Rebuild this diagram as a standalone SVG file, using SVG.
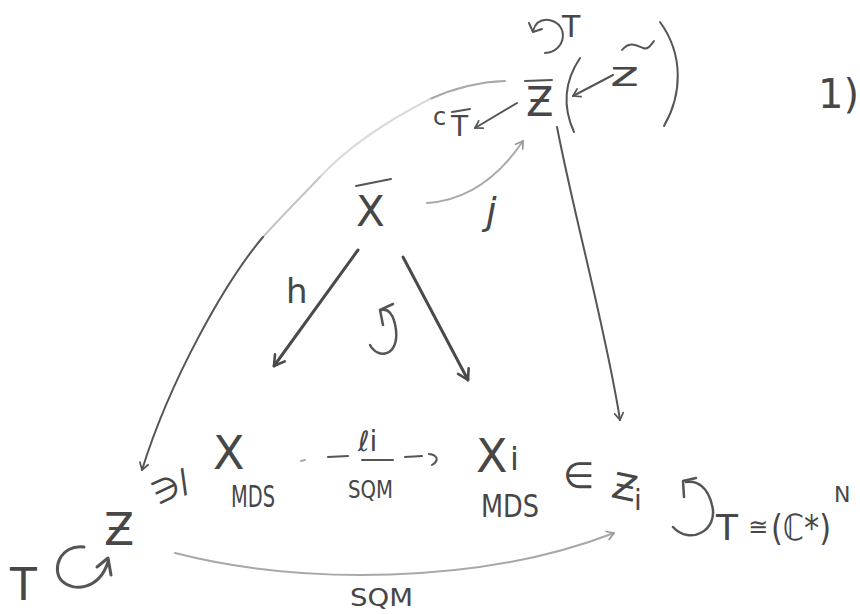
<svg xmlns="http://www.w3.org/2000/svg" width="860" height="614" viewBox="0 0 860 614">
<defs>
<style>
text{font-family:"DejaVu Sans","Liberation Sans",sans-serif;fill:#474747}
.ink{fill:none;stroke:#4a4a4a;stroke-width:3;stroke-linecap:round;stroke-linejoin:round}
.thin{fill:none;stroke:#555;stroke-width:2;stroke-linecap:round;stroke-linejoin:round}
.gray{fill:none;stroke:#a8a8a8;stroke-width:2;stroke-linecap:round}
.faint{fill:none;stroke:#dadada;stroke-width:2;stroke-linecap:round}
</style>
<marker id="ah" viewBox="-12 -8 14 16" markerWidth="14" markerHeight="16" refX="0" refY="0" orient="auto" markerUnits="userSpaceOnUse">
<path d="M-10,-6 L0,0 L-10,6" fill="none" stroke="#4a4a4a" stroke-width="2.6" stroke-linecap="round" stroke-linejoin="round"/>
</marker>
<marker id="ahs" viewBox="-12 -8 14 16" markerWidth="12" markerHeight="14" refX="0" refY="0" orient="auto" markerUnits="userSpaceOnUse">
<path d="M-8,-5 L0,0 L-8,5" fill="none" stroke="#555" stroke-width="2" stroke-linecap="round" stroke-linejoin="round"/>
</marker>
<marker id="ahg" viewBox="-12 -8 14 16" markerWidth="12" markerHeight="14" refX="0" refY="0" orient="auto" markerUnits="userSpaceOnUse">
<path d="M-8,-5 L0,0 L-8,5" fill="none" stroke="#999" stroke-width="2" stroke-linecap="round" stroke-linejoin="round"/>
</marker>
</defs>
<rect width="860" height="614" fill="#fff"/>

<g id="connectors">
<!-- Zbar -> cTbar -->
<path class="thin" d="M517,103 L475,128" marker-end="url(#ahs)"/>
<!-- ztilde -> Zbar -->
<path class="thin" d="M613,75 L573,96" marker-end="url(#ahs)"/>
<!-- big left arc Zbar -> torus Z -->
<path class="gray" d="M505,81 C475,82 450,90 430,99"/>
<path class="faint" d="M430,99 C385,122 345,150 320,177"/>
<path class="faint" d="M320,177 C300,198 282,216 263,237" style="stroke:#c4c4c4"/>
<path class="thin" d="M263,237 C225,282 170,380 142,470" marker-end="url(#ahs)"/>
<!-- j arc Xbar -> Zbar -->
<path class="gray" d="M427,203 C470,200 500,175 523,141" marker-end="url(#ahg)"/>
<!-- h : Xbar -> X -->
<path class="ink" d="M358,250 L274,366" marker-end="url(#ah)"/>
<!-- Xbar -> Xi -->
<path class="ink" d="M403,257 L468,380" marker-end="url(#ah)"/>
<!-- Zbar -> Zi -->
<path class="thin" d="M557,127 C575,220 606,330 620,420" marker-end="url(#ahs)"/>
<!-- dashed li arrow X -> Xi -->
<path class="gray" d="M301,461 L305,460"/>
<path class="thin" d="M328,457 L348,456"/>
<path class="thin" d="M362,460 L393,460"/>
<path class="thin" d="M405,457 L422,456"/>
<path class="thin" d="M429,454 C437,455 440,460 432,465"/>
<!-- SQM bottom arc -->
<path class="gray" d="M175,553 C300,585 480,585 614,533" marker-end="url(#ahg)"/>
</g>

<g id="node-zbar">
<path class="thin" d="M525,81 L552,80"/>
<text x="526" y="116" font-size="40">Ƶ</text>
<path class="thin" d="M545,53 C566,52 570,24 549,20 C540,19 535,24 533,31"/>
<path class="thin" d="M529,23 L533,32 L542,29"/>
<text x="562" y="37" font-size="30">T</text>
<path class="thin" d="M580,58 C562,85 564,110 574,132"/>
<path class="thin" d="M660,22 C684,55 682,95 664,126"/>
</g>

<g id="node-ztilde">
<path class="thin" d="M622,50 C630,40 637,46 643,48 C648,50 651,45 654,41"/>
<text x="610" y="86" font-size="34" textLength="29" lengthAdjust="spacingAndGlyphs">z</text>
</g>

<g id="node-cT">
<text x="433" y="125" font-size="24">c</text>
<path class="thin" d="M452,112 L470,109"/>
<text x="451" y="136" font-size="28">T</text>
</g>

<g id="node-xbar">
<path class="thin" d="M356,186 L391,179"/>
<text x="356" y="226" font-size="42">X</text>
<text x="486" y="224" font-size="38" font-style="italic" font-family="Liberation Serif, serif">j</text>
</g>

<g id="label-h">
<text x="286" y="303" font-size="34">h</text>
</g>

<g id="commute-mid">
<path class="thin" d="M370,345 C378,360 399,356 396,330 C394,314 388,308 381,310" style="stroke-width:2.5"/>
<path class="thin" d="M383,325 L380,310 L393,304" style="stroke-width:2.5"/>
</g>

<g id="node-x">
<text x="213" y="469" font-size="46">X</text>
<text x="231" y="507" font-size="30" textLength="44" lengthAdjust="spacingAndGlyphs">MDS</text>
<text x="0" y="0" font-size="32" transform="translate(158,505) rotate(-25)">∋/</text>
</g>

<g id="label-li">
<text x="358" y="451" font-size="28">ℓi</text>
<text x="348" y="498" font-size="25" textLength="45" lengthAdjust="spacingAndGlyphs">SQM</text>
</g>

<g id="node-xi">
<text x="476" y="472" font-size="46">X</text>
<text x="510" y="470" font-size="32">i</text>
<text x="481" y="517" font-size="32" textLength="58" lengthAdjust="spacingAndGlyphs">MDS</text>
</g>

<g id="node-zi">
<text x="563" y="488" font-size="36">∈</text>
<text x="0" y="0" font-size="36" transform="translate(610,497) rotate(12)">Ƶ</text>
<text x="634" y="510" font-size="28">i</text>
<path class="thin" d="M673,527 C690,546 719,530 712,505 C708,488 698,480 686,482" style="stroke-width:2.5"/>
<path class="thin" d="M684,497 L683,481 L696,478" style="stroke-width:2.5"/>
<text x="716" y="540" font-size="36">T</text>
<text x="748" y="535" font-size="24">≅</text>
<text x="771" y="540" font-size="36" textLength="60" lengthAdjust="spacingAndGlyphs">(ℂ*)</text>
<text x="834" y="502" font-size="22">N</text>
</g>

<g id="node-torus">
<text x="10" y="600" font-size="44">T</text>
<path class="thin" d="M84,547 C60,544 51,570 62,581 C73,592 99,590 108,562" style="stroke-width:3"/>
<path class="thin" d="M97,567 L108,558 L111,575" style="stroke-width:3"/>
<text x="104" y="545" font-size="44">Ƶ</text>
<text x="350" y="606" font-size="25" textLength="63" lengthAdjust="spacingAndGlyphs">SQM</text>
</g>

<g id="label-1">
<text x="818" y="108" font-size="40">1)</text>
</g>
</svg>
